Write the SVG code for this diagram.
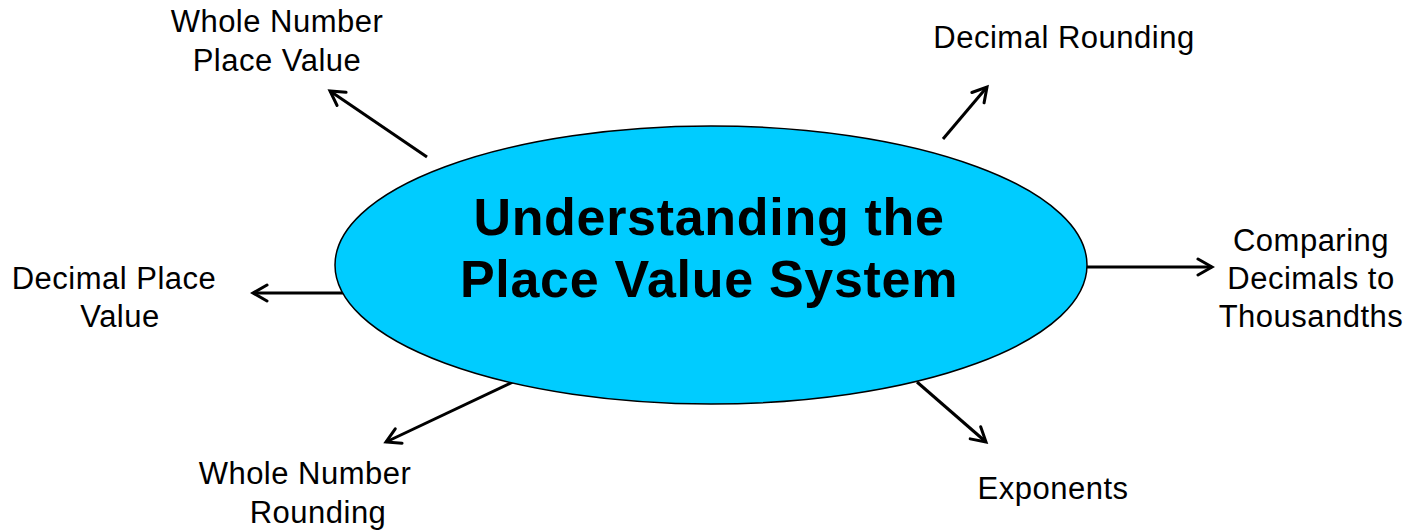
<svg xmlns="http://www.w3.org/2000/svg" width="1408" height="531" viewBox="0 0 1408 531">
<defs>
<marker id="arr" viewBox="0 0 20 20" refX="17" refY="10" markerWidth="20" markerHeight="20" markerUnits="userSpaceOnUse" orient="auto">
<path d="M3,2 L17,10 L3,18" fill="none" stroke="#000" stroke-width="3" stroke-linecap="round" stroke-linejoin="miter"/>
</marker>
<style>
.lbl{font-family:"Liberation Sans",Arial,sans-serif;font-size:31px;letter-spacing:0.5px;fill:#000;text-anchor:middle}
.ttl{font-family:"Liberation Sans",Arial,sans-serif;font-size:52px;letter-spacing:0.7px;font-weight:bold;fill:#000;text-anchor:middle}
.con{stroke:#000;stroke-width:3;fill:none;marker-end:url(#arr)}
</style>
</defs>
<rect width="1408" height="531" fill="#fff"/>
<g id="connectors">
<line class="con" x1="427" y1="157" x2="330" y2="91"/>
<line class="con" x1="943" y1="139" x2="987" y2="87"/>
<line class="con" x1="1087" y1="267" x2="1212" y2="267"/>
<line class="con" x1="345" y1="293" x2="253" y2="293"/>
<line class="con" x1="513" y1="382" x2="386" y2="442"/>
<line class="con" x1="917" y1="382" x2="986" y2="442"/>
</g>
<g id="center">
<ellipse cx="711" cy="265" rx="376" ry="139" fill="#00CCFF" stroke="#000" stroke-width="1.5"/>
<text class="ttl" x="709" y="235">Understanding the</text>
<text class="ttl" x="709" y="297">Place Value System</text>
</g>
<g id="whole-number-place-value">
<text class="lbl" x="277" y="32">Whole Number</text>
<text class="lbl" x="277" y="71">Place Value</text>
</g>
<g id="decimal-rounding">
<text class="lbl" x="1064" y="48">Decimal Rounding</text>
</g>
<g id="comparing-decimals">
<text class="lbl" x="1311" y="251">Comparing</text>
<text class="lbl" x="1311" y="289">Decimals to</text>
<text class="lbl" x="1311" y="327">Thousandths</text>
</g>
<g id="decimal-place-value">
<text class="lbl" x="114" y="289">Decimal Place</text>
<text class="lbl" x="120" y="327">Value</text>
</g>
<g id="whole-number-rounding">
<text class="lbl" x="305" y="484">Whole Number</text>
<text class="lbl" x="318" y="523">Rounding</text>
</g>
<g id="exponents">
<text class="lbl" x="1053" y="499">Exponents</text>
</g>
</svg>
